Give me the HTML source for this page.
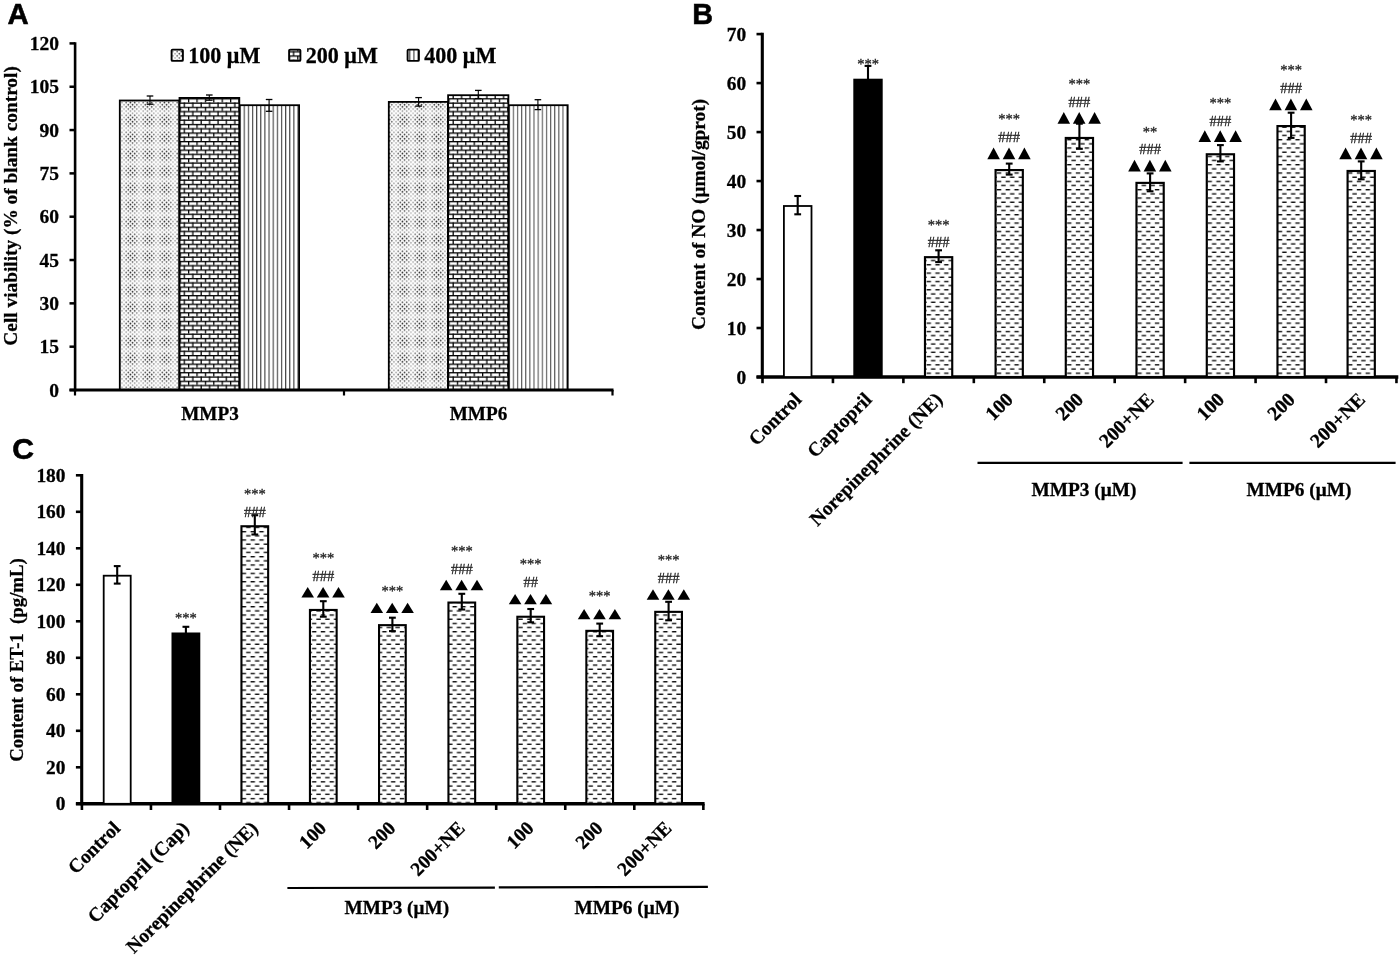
<!DOCTYPE html>
<html><head><meta charset="utf-8"><title>Figure</title>
<style>
html,body{margin:0;padding:0;background:#fff;}
body{width:1400px;height:957px;overflow:hidden;font-family:"Liberation Serif",serif;}
svg{display:block;will-change:transform;filter:grayscale(1);}
text{white-space:pre;}
</style></head><body>
<svg width="1400" height="957" viewBox="0 0 1400 957">
<defs>
<pattern id="pdots" width="17" height="17" patternUnits="userSpaceOnUse" x="123" y="112.2">
<rect width="17" height="17" fill="#fdfdfd"/>
<circle cx="1.06" cy="1.06" r="0.92" fill="#000" fill-opacity="0.24"/>
<circle cx="5.31" cy="1.06" r="0.92" fill="#000" fill-opacity="0.35"/>
<circle cx="9.56" cy="1.06" r="0.92" fill="#000" fill-opacity="0.37"/>
<circle cx="13.81" cy="1.06" r="0.92" fill="#000" fill-opacity="0.31"/>
<circle cx="3.19" cy="3.19" r="0.92" fill="#000" fill-opacity="0.46"/>
<circle cx="7.44" cy="3.19" r="0.92" fill="#000" fill-opacity="0.62"/>
<circle cx="11.69" cy="3.19" r="0.92" fill="#000" fill-opacity="0.57"/>
<circle cx="15.94" cy="3.19" r="0.92" fill="#000" fill-opacity="0.31"/>
<circle cx="1.06" cy="5.31" r="0.92" fill="#000" fill-opacity="0.35"/>
<circle cx="5.31" cy="5.31" r="0.92" fill="#000" fill-opacity="0.71"/>
<circle cx="9.56" cy="5.31" r="0.92" fill="#000" fill-opacity="0.79"/>
<circle cx="13.81" cy="5.31" r="0.92" fill="#000" fill-opacity="0.57"/>
<circle cx="3.19" cy="7.44" r="0.92" fill="#000" fill-opacity="0.62"/>
<circle cx="7.44" cy="7.44" r="0.92" fill="#000" fill-opacity="0.88"/>
<circle cx="11.69" cy="7.44" r="0.92" fill="#000" fill-opacity="0.79"/>
<circle cx="15.94" cy="7.44" r="0.92" fill="#000" fill-opacity="0.37"/>
<circle cx="1.06" cy="9.56" r="0.92" fill="#000" fill-opacity="0.37"/>
<circle cx="5.31" cy="9.56" r="0.92" fill="#000" fill-opacity="0.79"/>
<circle cx="9.56" cy="9.56" r="0.92" fill="#000" fill-opacity="0.88"/>
<circle cx="13.81" cy="9.56" r="0.92" fill="#000" fill-opacity="0.62"/>
<circle cx="3.19" cy="11.69" r="0.92" fill="#000" fill-opacity="0.57"/>
<circle cx="7.44" cy="11.69" r="0.92" fill="#000" fill-opacity="0.79"/>
<circle cx="11.69" cy="11.69" r="0.92" fill="#000" fill-opacity="0.71"/>
<circle cx="15.94" cy="11.69" r="0.92" fill="#000" fill-opacity="0.35"/>
<circle cx="1.06" cy="13.81" r="0.92" fill="#000" fill-opacity="0.31"/>
<circle cx="5.31" cy="13.81" r="0.92" fill="#000" fill-opacity="0.57"/>
<circle cx="9.56" cy="13.81" r="0.92" fill="#000" fill-opacity="0.62"/>
<circle cx="13.81" cy="13.81" r="0.92" fill="#000" fill-opacity="0.46"/>
<circle cx="3.19" cy="15.94" r="0.92" fill="#000" fill-opacity="0.31"/>
<circle cx="7.44" cy="15.94" r="0.92" fill="#000" fill-opacity="0.37"/>
<circle cx="11.69" cy="15.94" r="0.92" fill="#000" fill-opacity="0.35"/>
<circle cx="15.94" cy="15.94" r="0.92" fill="#000" fill-opacity="0.24"/>
</pattern>
<pattern id="pbrick" width="8.4" height="8.56" patternUnits="userSpaceOnUse" x="179.6" y="98.2">
<rect width="8.4" height="8.56" fill="#fff"/>
<rect x="0" y="0" width="8.4" height="1.3" fill="#000"/>
<rect x="0" y="4.28" width="8.4" height="1.3" fill="#000"/>
<rect x="0" y="0" width="1.25" height="4.28" fill="#000"/>
<rect x="4.2" y="4.28" width="1.25" height="4.28" fill="#000"/>
</pattern>
<pattern id="pvert" width="4.14" height="8" patternUnits="userSpaceOnUse" x="239.5" y="0">
<rect width="4.14" height="8" fill="#fff"/>
<rect x="0" y="0" width="1.15" height="8" fill="#444"/>
</pattern>
<pattern id="pvert2" width="4.14" height="8" patternUnits="userSpaceOnUse" x="508.6" y="0">
<rect width="4.14" height="8" fill="#fff"/>
<rect x="0" y="0" width="1.15" height="8" fill="#5c5c5c"/>
</pattern>
<pattern id="pdash" width="8.78" height="8.34" patternUnits="userSpaceOnUse">
<rect width="8.78" height="8.34" fill="#fff"/>
<rect x="0.3" y="1.4" width="4.4" height="1.35" fill="#0a0a0a"/>
<rect x="4.69" y="5.57" width="4.4" height="1.35" fill="#0a0a0a"/>
<rect x="-4.09" y="5.57" width="4.4" height="1.35" fill="#0a0a0a"/>
</pattern>
</defs>
<rect width="1400" height="957" fill="#fff"/>

<text x="7.6" y="24.4" font-family='"Liberation Sans", sans-serif' font-size="29.4" font-weight="bold" text-anchor="start" fill="#000" textLength="21.2" lengthAdjust="spacingAndGlyphs"  stroke="#000" stroke-width="0.55">A</text>
<text x="692.2" y="24.3" font-family='"Liberation Sans", sans-serif' font-size="29.2" font-weight="bold" text-anchor="start" fill="#000" textLength="20.8" lengthAdjust="spacingAndGlyphs"  stroke="#000" stroke-width="0.55">B</text>
<text x="12.2" y="458.8" font-family='"Liberation Sans", sans-serif' font-size="30" font-weight="bold" text-anchor="start" fill="#000" textLength="21.8" lengthAdjust="spacingAndGlyphs"  stroke="#000" stroke-width="0.55">C</text>
<line x1="69.5" y1="390" x2="75" y2="390" stroke="#000" stroke-width="2.5" />
<text x="59.1" y="396.5" font-family='"Liberation Serif", serif' font-size="19.5" font-weight="bold" text-anchor="end" fill="#000"  stroke="#000" stroke-width="0.28">0</text>
<line x1="69.5" y1="346.68" x2="75" y2="346.68" stroke="#000" stroke-width="2.5" />
<text x="59.1" y="353.18" font-family='"Liberation Serif", serif' font-size="19.5" font-weight="bold" text-anchor="end" fill="#000"  stroke="#000" stroke-width="0.28">15</text>
<line x1="69.5" y1="303.35" x2="75" y2="303.35" stroke="#000" stroke-width="2.5" />
<text x="59.1" y="309.85" font-family='"Liberation Serif", serif' font-size="19.5" font-weight="bold" text-anchor="end" fill="#000"  stroke="#000" stroke-width="0.28">30</text>
<line x1="69.5" y1="260.02" x2="75" y2="260.02" stroke="#000" stroke-width="2.5" />
<text x="59.1" y="266.52" font-family='"Liberation Serif", serif' font-size="19.5" font-weight="bold" text-anchor="end" fill="#000"  stroke="#000" stroke-width="0.28">45</text>
<line x1="69.5" y1="216.7" x2="75" y2="216.7" stroke="#000" stroke-width="2.5" />
<text x="59.1" y="223.2" font-family='"Liberation Serif", serif' font-size="19.5" font-weight="bold" text-anchor="end" fill="#000"  stroke="#000" stroke-width="0.28">60</text>
<line x1="69.5" y1="173.38" x2="75" y2="173.38" stroke="#000" stroke-width="2.5" />
<text x="59.1" y="179.88" font-family='"Liberation Serif", serif' font-size="19.5" font-weight="bold" text-anchor="end" fill="#000"  stroke="#000" stroke-width="0.28">75</text>
<line x1="69.5" y1="130.05" x2="75" y2="130.05" stroke="#000" stroke-width="2.5" />
<text x="59.1" y="136.55" font-family='"Liberation Serif", serif' font-size="19.5" font-weight="bold" text-anchor="end" fill="#000"  stroke="#000" stroke-width="0.28">90</text>
<line x1="69.5" y1="86.73" x2="75" y2="86.73" stroke="#000" stroke-width="2.5" />
<text x="59.1" y="93.23" font-family='"Liberation Serif", serif' font-size="19.5" font-weight="bold" text-anchor="end" fill="#000"  stroke="#000" stroke-width="0.28">105</text>
<line x1="69.5" y1="43.4" x2="75" y2="43.4" stroke="#000" stroke-width="2.5" />
<text x="59.1" y="49.9" font-family='"Liberation Serif", serif' font-size="19.5" font-weight="bold" text-anchor="end" fill="#000"  stroke="#000" stroke-width="0.28">120</text>
<line x1="75.1" y1="42.15" x2="75.1" y2="391.5" stroke="#000" stroke-width="2.6" />
<rect x="119.8" y="100.5" width="59.5" height="289.5" fill="url(#pdots)" stroke="#000" stroke-width="1.8"/>
<rect x="239.5" y="105.2" width="59.6" height="284.8" fill="url(#pvert)" stroke="#000" stroke-width="1.8"/>
<rect x="388.8" y="101.9" width="59.1" height="288.1" fill="url(#pdots)" stroke="#000" stroke-width="1.8"/>
<rect x="508.6" y="105.2" width="59.1" height="284.8" fill="url(#pvert2)" stroke="#000" stroke-width="1.8"/>
<rect x="179.5" y="97.9" width="59.8" height="292.1" fill="url(#pbrick)" stroke="#000" stroke-width="1.8"/>
<rect x="448.1" y="95.2" width="60.3" height="294.8" fill="url(#pbrick)" stroke="#000" stroke-width="1.8"/>
<line x1="150" y1="96" x2="150" y2="104.2" stroke="#000" stroke-width="1.1" />
<line x1="146.7" y1="96" x2="153.3" y2="96" stroke="#000" stroke-width="1.3" />
<line x1="146.7" y1="104.2" x2="153.3" y2="104.2" stroke="#000" stroke-width="1.3" />
<line x1="209.3" y1="95" x2="209.3" y2="100.2" stroke="#000" stroke-width="1.1" />
<line x1="206" y1="95" x2="212.6" y2="95" stroke="#000" stroke-width="1.3" />
<line x1="206" y1="100.2" x2="212.6" y2="100.2" stroke="#000" stroke-width="1.3" />
<line x1="269.1" y1="99.5" x2="269.1" y2="111.3" stroke="#000" stroke-width="1.1" />
<line x1="265.8" y1="99.5" x2="272.4" y2="99.5" stroke="#000" stroke-width="1.3" />
<line x1="265.8" y1="111.3" x2="272.4" y2="111.3" stroke="#000" stroke-width="1.3" />
<line x1="418.6" y1="97.6" x2="418.6" y2="106.1" stroke="#000" stroke-width="1.1" />
<line x1="415.3" y1="97.6" x2="421.9" y2="97.6" stroke="#000" stroke-width="1.3" />
<line x1="415.3" y1="106.1" x2="421.9" y2="106.1" stroke="#000" stroke-width="1.3" />
<line x1="478.3" y1="90.4" x2="478.3" y2="98.6" stroke="#000" stroke-width="1.1" />
<line x1="475" y1="90.4" x2="481.6" y2="90.4" stroke="#000" stroke-width="1.3" />
<line x1="475" y1="98.6" x2="481.6" y2="98.6" stroke="#000" stroke-width="1.3" />
<line x1="537.9" y1="99.7" x2="537.9" y2="109.6" stroke="#000" stroke-width="1.1" />
<line x1="534.6" y1="99.7" x2="541.2" y2="99.7" stroke="#000" stroke-width="1.3" />
<line x1="534.6" y1="109.6" x2="541.2" y2="109.6" stroke="#000" stroke-width="1.3" />
<line x1="69.5" y1="390" x2="613.5" y2="390" stroke="#000" stroke-width="3" />
<line x1="75" y1="390" x2="75" y2="395.5" stroke="#000" stroke-width="2.2" />
<line x1="344" y1="390" x2="344" y2="395.5" stroke="#000" stroke-width="2.2" />
<line x1="612.5" y1="390" x2="612.5" y2="395.5" stroke="#000" stroke-width="2.2" />
<text x="210" y="419.5" font-family='"Liberation Serif", serif' font-size="19.2" font-weight="bold" text-anchor="middle" fill="#000"  stroke="#000" stroke-width="0.28">MMP3</text>
<text x="478.5" y="419.5" font-family='"Liberation Serif", serif' font-size="19.2" font-weight="bold" text-anchor="middle" fill="#000"  stroke="#000" stroke-width="0.28">MMP6</text>
<text x="16.9" y="205.9" font-family='"Liberation Serif", serif' font-size="19.2" font-weight="bold" text-anchor="middle" fill="#000" transform="rotate(-90 16.9 205.9)" textLength="279.5" lengthAdjust="spacingAndGlyphs"  stroke="#000" stroke-width="0.28">Cell viability (% of blank control)</text>
<rect x="171.6" y="49.6" width="11.3" height="11.3" rx="1" fill="url(#pdots)" stroke="#000" stroke-width="1.9"/>
<text x="188.2" y="62.5" font-family='"Liberation Serif", serif' font-size="22.1" font-weight="bold" text-anchor="start" fill="#000"  stroke="#000" stroke-width="0.28">100 μM</text>
<rect x="289.1" y="49.6" width="11.3" height="11.3" rx="1" fill="url(#pbrick)" stroke="#000" stroke-width="1.9"/>
<text x="305.7" y="62.5" font-family='"Liberation Serif", serif' font-size="22.1" font-weight="bold" text-anchor="start" fill="#000"  stroke="#000" stroke-width="0.28">200 μM</text>
<rect x="407.6" y="49.6" width="11.3" height="11.3" rx="1" fill="url(#pvert)" stroke="#000" stroke-width="1.9"/>
<text x="424.2" y="62.5" font-family='"Liberation Serif", serif' font-size="22.1" font-weight="bold" text-anchor="start" fill="#000"  stroke="#000" stroke-width="0.28">400 μM</text>
<line x1="756.5" y1="377" x2="762.3" y2="377" stroke="#000" stroke-width="2.6" />
<text x="746.1" y="383.6" font-family='"Liberation Serif", serif' font-size="19.4" font-weight="bold" text-anchor="end" fill="#000"  stroke="#000" stroke-width="0.28">0</text>
<line x1="756.5" y1="328.01" x2="762.3" y2="328.01" stroke="#000" stroke-width="2.6" />
<text x="746.1" y="334.61" font-family='"Liberation Serif", serif' font-size="19.4" font-weight="bold" text-anchor="end" fill="#000"  stroke="#000" stroke-width="0.28">10</text>
<line x1="756.5" y1="279.03" x2="762.3" y2="279.03" stroke="#000" stroke-width="2.6" />
<text x="746.1" y="285.63" font-family='"Liberation Serif", serif' font-size="19.4" font-weight="bold" text-anchor="end" fill="#000"  stroke="#000" stroke-width="0.28">20</text>
<line x1="756.5" y1="230.04" x2="762.3" y2="230.04" stroke="#000" stroke-width="2.6" />
<text x="746.1" y="236.64" font-family='"Liberation Serif", serif' font-size="19.4" font-weight="bold" text-anchor="end" fill="#000"  stroke="#000" stroke-width="0.28">30</text>
<line x1="756.5" y1="181.06" x2="762.3" y2="181.06" stroke="#000" stroke-width="2.6" />
<text x="746.1" y="187.66" font-family='"Liberation Serif", serif' font-size="19.4" font-weight="bold" text-anchor="end" fill="#000"  stroke="#000" stroke-width="0.28">40</text>
<line x1="756.5" y1="132.07" x2="762.3" y2="132.07" stroke="#000" stroke-width="2.6" />
<text x="746.1" y="138.67" font-family='"Liberation Serif", serif' font-size="19.4" font-weight="bold" text-anchor="end" fill="#000"  stroke="#000" stroke-width="0.28">50</text>
<line x1="756.5" y1="83.09" x2="762.3" y2="83.09" stroke="#000" stroke-width="2.6" />
<text x="746.1" y="89.69" font-family='"Liberation Serif", serif' font-size="19.4" font-weight="bold" text-anchor="end" fill="#000"  stroke="#000" stroke-width="0.28">60</text>
<line x1="756.5" y1="34.1" x2="762.3" y2="34.1" stroke="#000" stroke-width="2.6" />
<text x="746.1" y="40.7" font-family='"Liberation Serif", serif' font-size="19.4" font-weight="bold" text-anchor="end" fill="#000"  stroke="#000" stroke-width="0.28">70</text>
<line x1="762.3" y1="32.8" x2="762.3" y2="378.5" stroke="#000" stroke-width="3.1" />
<line x1="756.5" y1="377" x2="1398.3" y2="377" stroke="#000" stroke-width="3.4" />
<line x1="762.5" y1="377" x2="762.5" y2="383.2" stroke="#000" stroke-width="2.6" />
<line x1="832.94" y1="377" x2="832.94" y2="383.2" stroke="#000" stroke-width="2.6" />
<line x1="903.38" y1="377" x2="903.38" y2="383.2" stroke="#000" stroke-width="2.6" />
<line x1="973.82" y1="377" x2="973.82" y2="383.2" stroke="#000" stroke-width="2.6" />
<line x1="1044.26" y1="377" x2="1044.26" y2="383.2" stroke="#000" stroke-width="2.6" />
<line x1="1114.7" y1="377" x2="1114.7" y2="383.2" stroke="#000" stroke-width="2.6" />
<line x1="1185.14" y1="377" x2="1185.14" y2="383.2" stroke="#000" stroke-width="2.6" />
<line x1="1255.58" y1="377" x2="1255.58" y2="383.2" stroke="#000" stroke-width="2.6" />
<line x1="1326.02" y1="377" x2="1326.02" y2="383.2" stroke="#000" stroke-width="2.6" />
<line x1="1396.46" y1="377" x2="1396.46" y2="383.2" stroke="#000" stroke-width="2.6" />
<rect x="783.9" y="206" width="27.6" height="171" fill="#fff" stroke="#000" stroke-width="1.8"/>
<line x1="797.7" y1="196" x2="797.7" y2="214.3" stroke="#000" stroke-width="2.1" />
<line x1="794.3" y1="196" x2="801.1" y2="196" stroke="#000" stroke-width="2.1" />
<line x1="794.3" y1="214.3" x2="801.1" y2="214.3" stroke="#000" stroke-width="2.1" />
<text x="802.7" y="400.7" font-family='"Liberation Serif", serif' font-size="19.7" font-weight="bold" text-anchor="end" fill="#000" transform="rotate(-45 802.7 400.7)"  stroke="#000" stroke-width="0.28">Control</text>
<rect x="854.38" y="79.78" width="27.25" height="297.23" fill="#000" stroke="#000" stroke-width="2.15"/>
<line x1="868" y1="65.9" x2="868" y2="84" stroke="#000" stroke-width="2.1" />
<line x1="864.6" y1="65.9" x2="871.4" y2="65.9" stroke="#000" stroke-width="2.1" />
<line x1="864.6" y1="84" x2="871.4" y2="84" stroke="#000" stroke-width="2.1" />
<text x="868" y="68.9" font-family='"Liberation Serif", serif' font-size="14.5" font-weight="normal" text-anchor="middle" fill="#262626" stroke="#262626" stroke-width="0.3">***</text>
<text x="873" y="400.7" font-family='"Liberation Serif", serif' font-size="19.7" font-weight="bold" text-anchor="end" fill="#000" transform="rotate(-45 873 400.7)"  stroke="#000" stroke-width="0.28">Captopril</text>
<rect x="924.98" y="257.18" width="27.25" height="119.82" fill="url(#pdash)" stroke="#000" stroke-width="2.15"/>
<line x1="938.6" y1="250.3" x2="938.6" y2="262.1" stroke="#000" stroke-width="2.1" />
<line x1="935.2" y1="250.3" x2="942" y2="250.3" stroke="#000" stroke-width="2.1" />
<line x1="935.2" y1="262.1" x2="942" y2="262.1" stroke="#000" stroke-width="2.1" />
<text x="938.6" y="247.4" font-family='"Liberation Serif", serif' font-size="14.5" font-weight="normal" text-anchor="middle" fill="#262626" stroke="#262626" stroke-width="0.3">###</text>
<text x="938.6" y="229.6" font-family='"Liberation Serif", serif' font-size="14.5" font-weight="normal" text-anchor="middle" fill="#262626" stroke="#262626" stroke-width="0.3">***</text>
<text x="943.6" y="400.7" font-family='"Liberation Serif", serif' font-size="19.7" font-weight="bold" text-anchor="end" fill="#000" transform="rotate(-45 943.6 400.7)"  stroke="#000" stroke-width="0.28">Norepinephrine (NE)</text>
<rect x="995.58" y="170.07" width="27.25" height="206.93" fill="url(#pdash)" stroke="#000" stroke-width="2.15"/>
<line x1="1009.2" y1="163.6" x2="1009.2" y2="174.6" stroke="#000" stroke-width="2.1" />
<line x1="1005.8" y1="163.6" x2="1012.6" y2="163.6" stroke="#000" stroke-width="2.1" />
<line x1="1005.8" y1="174.6" x2="1012.6" y2="174.6" stroke="#000" stroke-width="2.1" />
<polygon points="987.3,159.2 999.9,159.2 993.6,147.5" fill="#000"/>
<polygon points="1002.7,159.2 1015.3,159.2 1009,147.5" fill="#000"/>
<polygon points="1018.1,159.2 1030.7,159.2 1024.4,147.5" fill="#000"/>
<text x="1009.2" y="141.8" font-family='"Liberation Serif", serif' font-size="14.5" font-weight="normal" text-anchor="middle" fill="#262626" stroke="#262626" stroke-width="0.3">###</text>
<text x="1009.2" y="124.1" font-family='"Liberation Serif", serif' font-size="14.5" font-weight="normal" text-anchor="middle" fill="#262626" stroke="#262626" stroke-width="0.3">***</text>
<text x="1014.2" y="400.7" font-family='"Liberation Serif", serif' font-size="19.7" font-weight="bold" text-anchor="end" fill="#000" transform="rotate(-45 1014.2 400.7)"  stroke="#000" stroke-width="0.28">100</text>
<rect x="1065.78" y="137.97" width="27.25" height="239.03" fill="url(#pdash)" stroke="#000" stroke-width="2.15"/>
<line x1="1079.4" y1="123.7" x2="1079.4" y2="148.8" stroke="#000" stroke-width="2.1" />
<line x1="1076" y1="123.7" x2="1082.8" y2="123.7" stroke="#000" stroke-width="2.1" />
<line x1="1076" y1="148.8" x2="1082.8" y2="148.8" stroke="#000" stroke-width="2.1" />
<polygon points="1057.5,123.7 1070.1,123.7 1063.8,112" fill="#000"/>
<polygon points="1072.9,123.7 1085.5,123.7 1079.2,112" fill="#000"/>
<polygon points="1088.3,123.7 1100.9,123.7 1094.6,112" fill="#000"/>
<text x="1079.4" y="107.2" font-family='"Liberation Serif", serif' font-size="14.5" font-weight="normal" text-anchor="middle" fill="#262626" stroke="#262626" stroke-width="0.3">###</text>
<text x="1079.4" y="88.9" font-family='"Liberation Serif", serif' font-size="14.5" font-weight="normal" text-anchor="middle" fill="#262626" stroke="#262626" stroke-width="0.3">***</text>
<text x="1084.4" y="400.7" font-family='"Liberation Serif", serif' font-size="19.7" font-weight="bold" text-anchor="end" fill="#000" transform="rotate(-45 1084.4 400.7)"  stroke="#000" stroke-width="0.28">200</text>
<rect x="1136.47" y="182.88" width="27.25" height="194.12" fill="url(#pdash)" stroke="#000" stroke-width="2.15"/>
<line x1="1150.1" y1="173.4" x2="1150.1" y2="191.3" stroke="#000" stroke-width="2.1" />
<line x1="1146.7" y1="173.4" x2="1153.5" y2="173.4" stroke="#000" stroke-width="2.1" />
<line x1="1146.7" y1="191.3" x2="1153.5" y2="191.3" stroke="#000" stroke-width="2.1" />
<polygon points="1128.2,171.5 1140.8,171.5 1134.5,159.8" fill="#000"/>
<polygon points="1143.6,171.5 1156.2,171.5 1149.9,159.8" fill="#000"/>
<polygon points="1159,171.5 1171.6,171.5 1165.3,159.8" fill="#000"/>
<text x="1150.1" y="154.4" font-family='"Liberation Serif", serif' font-size="14.5" font-weight="normal" text-anchor="middle" fill="#262626" stroke="#262626" stroke-width="0.3">###</text>
<text x="1150.1" y="136.7" font-family='"Liberation Serif", serif' font-size="14.5" font-weight="normal" text-anchor="middle" fill="#262626" stroke="#262626" stroke-width="0.3">**</text>
<text x="1155.1" y="400.7" font-family='"Liberation Serif", serif' font-size="19.7" font-weight="bold" text-anchor="end" fill="#000" transform="rotate(-45 1155.1 400.7)"  stroke="#000" stroke-width="0.28">200+NE</text>
<rect x="1206.78" y="154.27" width="27.25" height="222.73" fill="url(#pdash)" stroke="#000" stroke-width="2.15"/>
<line x1="1220.4" y1="145.1" x2="1220.4" y2="161.4" stroke="#000" stroke-width="2.1" />
<line x1="1217" y1="145.1" x2="1223.8" y2="145.1" stroke="#000" stroke-width="2.1" />
<line x1="1217" y1="161.4" x2="1223.8" y2="161.4" stroke="#000" stroke-width="2.1" />
<polygon points="1198.5,141.9 1211.1,141.9 1204.8,130.2" fill="#000"/>
<polygon points="1213.9,141.9 1226.5,141.9 1220.2,130.2" fill="#000"/>
<polygon points="1229.3,141.9 1241.9,141.9 1235.6,130.2" fill="#000"/>
<text x="1220.4" y="125.5" font-family='"Liberation Serif", serif' font-size="14.5" font-weight="normal" text-anchor="middle" fill="#262626" stroke="#262626" stroke-width="0.3">###</text>
<text x="1220.4" y="107.5" font-family='"Liberation Serif", serif' font-size="14.5" font-weight="normal" text-anchor="middle" fill="#262626" stroke="#262626" stroke-width="0.3">***</text>
<text x="1225.4" y="400.7" font-family='"Liberation Serif", serif' font-size="19.7" font-weight="bold" text-anchor="end" fill="#000" transform="rotate(-45 1225.4 400.7)"  stroke="#000" stroke-width="0.28">100</text>
<rect x="1277.47" y="126.08" width="27.25" height="250.93" fill="url(#pdash)" stroke="#000" stroke-width="2.15"/>
<line x1="1291.1" y1="112.7" x2="1291.1" y2="137.9" stroke="#000" stroke-width="2.1" />
<line x1="1287.7" y1="112.7" x2="1294.5" y2="112.7" stroke="#000" stroke-width="2.1" />
<line x1="1287.7" y1="137.9" x2="1294.5" y2="137.9" stroke="#000" stroke-width="2.1" />
<polygon points="1269.2,110.2 1281.8,110.2 1275.5,98.5" fill="#000"/>
<polygon points="1284.6,110.2 1297.2,110.2 1290.9,98.5" fill="#000"/>
<polygon points="1300,110.2 1312.6,110.2 1306.3,98.5" fill="#000"/>
<text x="1291.1" y="92.5" font-family='"Liberation Serif", serif' font-size="14.5" font-weight="normal" text-anchor="middle" fill="#262626" stroke="#262626" stroke-width="0.3">###</text>
<text x="1291.1" y="75.4" font-family='"Liberation Serif", serif' font-size="14.5" font-weight="normal" text-anchor="middle" fill="#262626" stroke="#262626" stroke-width="0.3">***</text>
<text x="1296.1" y="400.7" font-family='"Liberation Serif", serif' font-size="19.7" font-weight="bold" text-anchor="end" fill="#000" transform="rotate(-45 1296.1 400.7)"  stroke="#000" stroke-width="0.28">200</text>
<rect x="1347.58" y="170.97" width="27.25" height="206.03" fill="url(#pdash)" stroke="#000" stroke-width="2.15"/>
<line x1="1361.2" y1="161.4" x2="1361.2" y2="179.3" stroke="#000" stroke-width="2.1" />
<line x1="1357.8" y1="161.4" x2="1364.6" y2="161.4" stroke="#000" stroke-width="2.1" />
<line x1="1357.8" y1="179.3" x2="1364.6" y2="179.3" stroke="#000" stroke-width="2.1" />
<polygon points="1339.3,159.2 1351.9,159.2 1345.6,147.5" fill="#000"/>
<polygon points="1354.7,159.2 1367.3,159.2 1361,147.5" fill="#000"/>
<polygon points="1370.1,159.2 1382.7,159.2 1376.4,147.5" fill="#000"/>
<text x="1361.2" y="142.8" font-family='"Liberation Serif", serif' font-size="14.5" font-weight="normal" text-anchor="middle" fill="#262626" stroke="#262626" stroke-width="0.3">###</text>
<text x="1361.2" y="125.1" font-family='"Liberation Serif", serif' font-size="14.5" font-weight="normal" text-anchor="middle" fill="#262626" stroke="#262626" stroke-width="0.3">***</text>
<text x="1366.2" y="400.7" font-family='"Liberation Serif", serif' font-size="19.7" font-weight="bold" text-anchor="end" fill="#000" transform="rotate(-45 1366.2 400.7)"  stroke="#000" stroke-width="0.28">200+NE</text>
<line x1="977.5" y1="462.8" x2="1182.6" y2="462.8" stroke="#000" stroke-width="2.2" />
<line x1="1189.4" y1="462.8" x2="1395.6" y2="462.8" stroke="#000" stroke-width="2.2" />
<text x="1084" y="495.6" font-family='"Liberation Serif", serif' font-size="19.4" font-weight="bold" text-anchor="middle" fill="#000" textLength="105" lengthAdjust="spacingAndGlyphs"  stroke="#000" stroke-width="0.28">MMP3 (μM)</text>
<text x="1299" y="495.6" font-family='"Liberation Serif", serif' font-size="19.4" font-weight="bold" text-anchor="middle" fill="#000" textLength="105" lengthAdjust="spacingAndGlyphs"  stroke="#000" stroke-width="0.28">MMP6 (μM)</text>
<text x="705.5" y="214.4" font-family='"Liberation Serif", serif' font-size="19.4" font-weight="bold" text-anchor="middle" fill="#000" transform="rotate(-90 705.5 214.4)" textLength="231" lengthAdjust="spacingAndGlyphs"  stroke="#000" stroke-width="0.28">Content of NO (μmol/gprot)</text>
<line x1="75.9" y1="803.8" x2="81.7" y2="803.8" stroke="#000" stroke-width="2.6" />
<text x="65.5" y="810.4" font-family='"Liberation Serif", serif' font-size="19.4" font-weight="bold" text-anchor="end" fill="#000"  stroke="#000" stroke-width="0.28">0</text>
<line x1="75.9" y1="767.3" x2="81.7" y2="767.3" stroke="#000" stroke-width="2.6" />
<text x="65.5" y="773.9" font-family='"Liberation Serif", serif' font-size="19.4" font-weight="bold" text-anchor="end" fill="#000"  stroke="#000" stroke-width="0.28">20</text>
<line x1="75.9" y1="730.8" x2="81.7" y2="730.8" stroke="#000" stroke-width="2.6" />
<text x="65.5" y="737.4" font-family='"Liberation Serif", serif' font-size="19.4" font-weight="bold" text-anchor="end" fill="#000"  stroke="#000" stroke-width="0.28">40</text>
<line x1="75.9" y1="694.3" x2="81.7" y2="694.3" stroke="#000" stroke-width="2.6" />
<text x="65.5" y="700.9" font-family='"Liberation Serif", serif' font-size="19.4" font-weight="bold" text-anchor="end" fill="#000"  stroke="#000" stroke-width="0.28">60</text>
<line x1="75.9" y1="657.8" x2="81.7" y2="657.8" stroke="#000" stroke-width="2.6" />
<text x="65.5" y="664.4" font-family='"Liberation Serif", serif' font-size="19.4" font-weight="bold" text-anchor="end" fill="#000"  stroke="#000" stroke-width="0.28">80</text>
<line x1="75.9" y1="621.3" x2="81.7" y2="621.3" stroke="#000" stroke-width="2.6" />
<text x="65.5" y="627.9" font-family='"Liberation Serif", serif' font-size="19.4" font-weight="bold" text-anchor="end" fill="#000"  stroke="#000" stroke-width="0.28">100</text>
<line x1="75.9" y1="584.8" x2="81.7" y2="584.8" stroke="#000" stroke-width="2.6" />
<text x="65.5" y="591.4" font-family='"Liberation Serif", serif' font-size="19.4" font-weight="bold" text-anchor="end" fill="#000"  stroke="#000" stroke-width="0.28">120</text>
<line x1="75.9" y1="548.3" x2="81.7" y2="548.3" stroke="#000" stroke-width="2.6" />
<text x="65.5" y="554.9" font-family='"Liberation Serif", serif' font-size="19.4" font-weight="bold" text-anchor="end" fill="#000"  stroke="#000" stroke-width="0.28">140</text>
<line x1="75.9" y1="511.8" x2="81.7" y2="511.8" stroke="#000" stroke-width="2.6" />
<text x="65.5" y="518.4" font-family='"Liberation Serif", serif' font-size="19.4" font-weight="bold" text-anchor="end" fill="#000"  stroke="#000" stroke-width="0.28">160</text>
<line x1="75.9" y1="475.3" x2="81.7" y2="475.3" stroke="#000" stroke-width="2.6" />
<text x="65.5" y="481.9" font-family='"Liberation Serif", serif' font-size="19.4" font-weight="bold" text-anchor="end" fill="#000"  stroke="#000" stroke-width="0.28">180</text>
<line x1="81.7" y1="474" x2="81.7" y2="805.3" stroke="#000" stroke-width="3.1" />
<line x1="75.9" y1="803.8" x2="704.6" y2="803.8" stroke="#000" stroke-width="3.4" />
<line x1="81.9" y1="803.8" x2="81.9" y2="810" stroke="#000" stroke-width="2.6" />
<line x1="150.95" y1="803.8" x2="150.95" y2="810" stroke="#000" stroke-width="2.6" />
<line x1="220" y1="803.8" x2="220" y2="810" stroke="#000" stroke-width="2.6" />
<line x1="289.05" y1="803.8" x2="289.05" y2="810" stroke="#000" stroke-width="2.6" />
<line x1="358.1" y1="803.8" x2="358.1" y2="810" stroke="#000" stroke-width="2.6" />
<line x1="427.15" y1="803.8" x2="427.15" y2="810" stroke="#000" stroke-width="2.6" />
<line x1="496.2" y1="803.8" x2="496.2" y2="810" stroke="#000" stroke-width="2.6" />
<line x1="565.25" y1="803.8" x2="565.25" y2="810" stroke="#000" stroke-width="2.6" />
<line x1="634.3" y1="803.8" x2="634.3" y2="810" stroke="#000" stroke-width="2.6" />
<line x1="703.35" y1="803.8" x2="703.35" y2="810" stroke="#000" stroke-width="2.6" />
<rect x="103.7" y="575.7" width="27" height="228.1" fill="#fff" stroke="#000" stroke-width="1.8"/>
<line x1="117.2" y1="566.1" x2="117.2" y2="583.6" stroke="#000" stroke-width="2.1" />
<line x1="113.8" y1="566.1" x2="120.6" y2="566.1" stroke="#000" stroke-width="2.1" />
<line x1="113.8" y1="583.6" x2="120.6" y2="583.6" stroke="#000" stroke-width="2.1" />
<text x="121.4" y="829.3" font-family='"Liberation Serif", serif' font-size="19.5" font-weight="bold" text-anchor="end" fill="#000" transform="rotate(-45 121.4 829.3)"  stroke="#000" stroke-width="0.28">Control</text>
<rect x="172.55" y="633.55" width="26.7" height="170.25" fill="#000" stroke="#000" stroke-width="2.1"/>
<line x1="185.9" y1="626.8" x2="185.9" y2="637" stroke="#000" stroke-width="2.1" />
<line x1="182.5" y1="626.8" x2="189.3" y2="626.8" stroke="#000" stroke-width="2.1" />
<line x1="182.5" y1="637" x2="189.3" y2="637" stroke="#000" stroke-width="2.1" />
<text x="185.9" y="623.4" font-family='"Liberation Serif", serif' font-size="14.5" font-weight="normal" text-anchor="middle" fill="#262626" stroke="#262626" stroke-width="0.3">***</text>
<text x="190.1" y="829.3" font-family='"Liberation Serif", serif' font-size="19.5" font-weight="bold" text-anchor="end" fill="#000" transform="rotate(-45 190.1 829.3)"  stroke="#000" stroke-width="0.28">Captopril (Cap)</text>
<rect x="241.45" y="526.25" width="26.7" height="277.55" fill="url(#pdash)" stroke="#000" stroke-width="2.1"/>
<line x1="254.8" y1="515.2" x2="254.8" y2="534.5" stroke="#000" stroke-width="2.1" />
<line x1="251.4" y1="515.2" x2="258.2" y2="515.2" stroke="#000" stroke-width="2.1" />
<line x1="251.4" y1="534.5" x2="258.2" y2="534.5" stroke="#000" stroke-width="2.1" />
<text x="254.8" y="516.8" font-family='"Liberation Serif", serif' font-size="14.5" font-weight="normal" text-anchor="middle" fill="#262626" stroke="#262626" stroke-width="0.3">###</text>
<text x="254.8" y="498.8" font-family='"Liberation Serif", serif' font-size="14.5" font-weight="normal" text-anchor="middle" fill="#262626" stroke="#262626" stroke-width="0.3">***</text>
<text x="259" y="829.3" font-family='"Liberation Serif", serif' font-size="19.5" font-weight="bold" text-anchor="end" fill="#000" transform="rotate(-45 259 829.3)"  stroke="#000" stroke-width="0.28">Norepinephrine (NE)</text>
<rect x="309.95" y="609.95" width="26.7" height="193.85" fill="url(#pdash)" stroke="#000" stroke-width="2.1"/>
<line x1="323.3" y1="601.2" x2="323.3" y2="616.7" stroke="#000" stroke-width="2.1" />
<line x1="319.9" y1="601.2" x2="326.7" y2="601.2" stroke="#000" stroke-width="2.1" />
<line x1="319.9" y1="616.7" x2="326.7" y2="616.7" stroke="#000" stroke-width="2.1" />
<polygon points="301.4,597.4 314,597.4 307.7,587" fill="#000"/>
<polygon points="316.8,597.4 329.4,597.4 323.1,587" fill="#000"/>
<polygon points="332.2,597.4 344.8,597.4 338.5,587" fill="#000"/>
<text x="323.3" y="581" font-family='"Liberation Serif", serif' font-size="14.5" font-weight="normal" text-anchor="middle" fill="#262626" stroke="#262626" stroke-width="0.3">###</text>
<text x="323.3" y="562.7" font-family='"Liberation Serif", serif' font-size="14.5" font-weight="normal" text-anchor="middle" fill="#262626" stroke="#262626" stroke-width="0.3">***</text>
<text x="327.5" y="829.3" font-family='"Liberation Serif", serif' font-size="19.5" font-weight="bold" text-anchor="end" fill="#000" transform="rotate(-45 327.5 829.3)"  stroke="#000" stroke-width="0.28">100</text>
<rect x="379.05" y="625.15" width="26.7" height="178.65" fill="url(#pdash)" stroke="#000" stroke-width="2.1"/>
<line x1="392.4" y1="617.7" x2="392.4" y2="631.1" stroke="#000" stroke-width="2.1" />
<line x1="389" y1="617.7" x2="395.8" y2="617.7" stroke="#000" stroke-width="2.1" />
<line x1="389" y1="631.1" x2="395.8" y2="631.1" stroke="#000" stroke-width="2.1" />
<polygon points="370.5,613.1 383.1,613.1 376.8,602.7" fill="#000"/>
<polygon points="385.9,613.1 398.5,613.1 392.2,602.7" fill="#000"/>
<polygon points="401.3,613.1 413.9,613.1 407.6,602.7" fill="#000"/>
<text x="392.4" y="595.6" font-family='"Liberation Serif", serif' font-size="14.5" font-weight="normal" text-anchor="middle" fill="#262626" stroke="#262626" stroke-width="0.3">***</text>
<text x="396.6" y="829.3" font-family='"Liberation Serif", serif' font-size="19.5" font-weight="bold" text-anchor="end" fill="#000" transform="rotate(-45 396.6 829.3)"  stroke="#000" stroke-width="0.28">200</text>
<rect x="448.45" y="602.55" width="26.7" height="201.25" fill="url(#pdash)" stroke="#000" stroke-width="2.1"/>
<line x1="461.8" y1="593.8" x2="461.8" y2="609.5" stroke="#000" stroke-width="2.1" />
<line x1="458.4" y1="593.8" x2="465.2" y2="593.8" stroke="#000" stroke-width="2.1" />
<line x1="458.4" y1="609.5" x2="465.2" y2="609.5" stroke="#000" stroke-width="2.1" />
<polygon points="439.9,590.2 452.5,590.2 446.2,579.8" fill="#000"/>
<polygon points="455.3,590.2 467.9,590.2 461.6,579.8" fill="#000"/>
<polygon points="470.7,590.2 483.3,590.2 477,579.8" fill="#000"/>
<text x="461.8" y="573.8" font-family='"Liberation Serif", serif' font-size="14.5" font-weight="normal" text-anchor="middle" fill="#262626" stroke="#262626" stroke-width="0.3">###</text>
<text x="461.8" y="555.5" font-family='"Liberation Serif", serif' font-size="14.5" font-weight="normal" text-anchor="middle" fill="#262626" stroke="#262626" stroke-width="0.3">***</text>
<text x="466" y="829.3" font-family='"Liberation Serif", serif' font-size="19.5" font-weight="bold" text-anchor="end" fill="#000" transform="rotate(-45 466 829.3)"  stroke="#000" stroke-width="0.28">200+NE</text>
<rect x="517.35" y="616.75" width="26.7" height="187.05" fill="url(#pdash)" stroke="#000" stroke-width="2.1"/>
<line x1="530.7" y1="609" x2="530.7" y2="622.3" stroke="#000" stroke-width="2.1" />
<line x1="527.3" y1="609" x2="534.1" y2="609" stroke="#000" stroke-width="2.1" />
<line x1="527.3" y1="622.3" x2="534.1" y2="622.3" stroke="#000" stroke-width="2.1" />
<polygon points="508.8,604.3 521.4,604.3 515.1,593.9" fill="#000"/>
<polygon points="524.2,604.3 536.8,604.3 530.5,593.9" fill="#000"/>
<polygon points="539.6,604.3 552.2,604.3 545.9,593.9" fill="#000"/>
<text x="530.7" y="587.4" font-family='"Liberation Serif", serif' font-size="14.5" font-weight="normal" text-anchor="middle" fill="#262626" stroke="#262626" stroke-width="0.3">##</text>
<text x="530.7" y="569.4" font-family='"Liberation Serif", serif' font-size="14.5" font-weight="normal" text-anchor="middle" fill="#262626" stroke="#262626" stroke-width="0.3">***</text>
<text x="534.9" y="829.3" font-family='"Liberation Serif", serif' font-size="19.5" font-weight="bold" text-anchor="end" fill="#000" transform="rotate(-45 534.9 829.3)"  stroke="#000" stroke-width="0.28">100</text>
<rect x="586.35" y="630.85" width="26.7" height="172.95" fill="url(#pdash)" stroke="#000" stroke-width="2.1"/>
<line x1="599.7" y1="623.6" x2="599.7" y2="636.2" stroke="#000" stroke-width="2.1" />
<line x1="596.3" y1="623.6" x2="603.1" y2="623.6" stroke="#000" stroke-width="2.1" />
<line x1="596.3" y1="636.2" x2="603.1" y2="636.2" stroke="#000" stroke-width="2.1" />
<polygon points="577.8,619.3 590.4,619.3 584.1,608.9" fill="#000"/>
<polygon points="593.2,619.3 605.8,619.3 599.5,608.9" fill="#000"/>
<polygon points="608.6,619.3 621.2,619.3 614.9,608.9" fill="#000"/>
<text x="599.7" y="601.3" font-family='"Liberation Serif", serif' font-size="14.5" font-weight="normal" text-anchor="middle" fill="#262626" stroke="#262626" stroke-width="0.3">***</text>
<text x="603.9" y="829.3" font-family='"Liberation Serif", serif' font-size="19.5" font-weight="bold" text-anchor="end" fill="#000" transform="rotate(-45 603.9 829.3)"  stroke="#000" stroke-width="0.28">200</text>
<rect x="655.25" y="611.85" width="26.7" height="191.95" fill="url(#pdash)" stroke="#000" stroke-width="2.1"/>
<line x1="668.6" y1="601.8" x2="668.6" y2="620.3" stroke="#000" stroke-width="2.1" />
<line x1="665.2" y1="601.8" x2="672" y2="601.8" stroke="#000" stroke-width="2.1" />
<line x1="665.2" y1="620.3" x2="672" y2="620.3" stroke="#000" stroke-width="2.1" />
<polygon points="646.7,599.7 659.3,599.7 653,589.3" fill="#000"/>
<polygon points="662.1,599.7 674.7,599.7 668.4,589.3" fill="#000"/>
<polygon points="677.5,599.7 690.1,599.7 683.8,589.3" fill="#000"/>
<text x="668.6" y="582.8" font-family='"Liberation Serif", serif' font-size="14.5" font-weight="normal" text-anchor="middle" fill="#262626" stroke="#262626" stroke-width="0.3">###</text>
<text x="668.6" y="564.8" font-family='"Liberation Serif", serif' font-size="14.5" font-weight="normal" text-anchor="middle" fill="#262626" stroke="#262626" stroke-width="0.3">***</text>
<text x="672.8" y="829.3" font-family='"Liberation Serif", serif' font-size="19.5" font-weight="bold" text-anchor="end" fill="#000" transform="rotate(-45 672.8 829.3)"  stroke="#000" stroke-width="0.28">200+NE</text>
<line x1="287.4" y1="888" x2="494.9" y2="887.6" stroke="#000" stroke-width="2.2" />
<line x1="498.8" y1="887.4" x2="707.9" y2="886.8" stroke="#000" stroke-width="2.2" />
<text x="396.8" y="913.8" font-family='"Liberation Serif", serif' font-size="19.4" font-weight="bold" text-anchor="middle" fill="#000" textLength="104.5" lengthAdjust="spacingAndGlyphs"  stroke="#000" stroke-width="0.28">MMP3 (μM)</text>
<text x="626.9" y="913.8" font-family='"Liberation Serif", serif' font-size="19.4" font-weight="bold" text-anchor="middle" fill="#000" textLength="105" lengthAdjust="spacingAndGlyphs"  stroke="#000" stroke-width="0.28">MMP6 (μM)</text>
<text x="22.8" y="660" font-family='"Liberation Serif", serif' font-size="19.4" font-weight="bold" text-anchor="middle" fill="#000" transform="rotate(-90 22.8 660)" textLength="203.4" lengthAdjust="spacingAndGlyphs"  stroke="#000" stroke-width="0.28">Content of ET-1  (pg/mL)</text>
</svg></body></html>
